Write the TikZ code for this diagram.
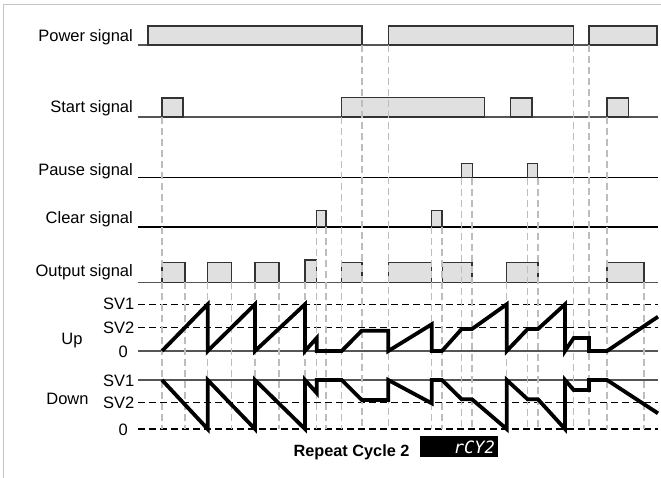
\documentclass[tikz,border=0pt]{standalone}
\usepackage{fontspec}
\setmainfont{Liberation Sans}
\newfontfamily\segfont{DejaVu Sans Mono}
\definecolor{boxfill}{HTML}{E0E0E0}
\definecolor{boxline}{HTML}{333333}
\definecolor{guidec}{HTML}{BDBDBD}
\definecolor{baseln}{HTML}{555555}
\definecolor{framec}{HTML}{C4C4C4}
\begin{document}
\begin{tikzpicture}[x=1pt,y=-1pt,
  pulse/.style={fill=boxfill, draw=boxline, line width=1.2pt},
  sigline/.style={draw=baseln, line width=1.2pt},
  guideline/.style={draw=guidec, line width=1.5pt, dash pattern=on 7pt off 4pt},
  levelline/.style={draw=black, line width=1.4pt, dash pattern=on 7pt off 4pt},
  solidlevel/.style={draw=baseln, line width=1.3pt},
  wave/.style={draw=black, line width=3.8pt, line join=miter, miter limit=10},
  lbl/.style={font=\fontsize{16.5}{19}\selectfont, inner sep=0pt, anchor=base east},
  clbl/.style={font=\fontsize{16.5}{19}\selectfont, inner sep=0pt, anchor=base}]
\useasboundingbox (0,0) rectangle (661,477);
\draw[framec, line width=1.5pt] (3.5,478) -- (3.5,4.5) -- (662,4.5);

% Power signal
\draw[sigline] (138,45) -- (658,45);
\draw[pulse] (148,45) rectangle (362,26);
\draw[pulse] (388.3,45) rectangle (573.7,26);
\draw[pulse] (589,45) rectangle (657,26);

% Start signal
\draw[sigline] (138,117) -- (658,117);
\draw[pulse] (162,117) rectangle (183,98);
\draw[pulse] (341.7,117) rectangle (484.3,97.5);
\draw[pulse] (510.3,117) rectangle (532,98);
\draw[pulse] (607,117) rectangle (628.7,98);

% Pause signal
\draw[draw=black, line width=1pt] (138,177.7) -- (658,177.7);
\draw[pulse] (461.7,177.7) rectangle (472.3,163.3);
\draw[pulse] (527.7,177.7) rectangle (537.7,163.3);

% Clear signal
\draw[draw=black, line width=2pt] (138,226.7) -- (658,226.7);
\draw[pulse] (316.7,226.7) rectangle (326,210.5);
\draw[pulse] (431.7,226.7) rectangle (442,210.5);

% Output signal
\draw[sigline] (138,282.3) -- (658,282.3);
\foreach \a/\b in {162/185, 207.7/231.7, 255/279, 341.7/362, 388.3/431.7, 442.3/472, 506.7/538, 607/644}
  \draw[pulse] (\a,282.3) rectangle (\b,262.7);
\draw[pulse] (305,282.3) rectangle (316.7,260);

% Level lines
\draw[levelline] (138,304.3) -- (658,304.3);
\draw[levelline] (138,327.7) -- (658,327.7);
\draw[solidlevel] (138,351) -- (658,351);
\draw[solidlevel] (138,380) -- (658,380);
\draw[levelline] (138,402.7) -- (658,402.7);
\draw[levelline] (138,429) -- (658,429);

% Guide lines
\foreach \x/\y in {162/117, 185/282.3, 207.7/282.3, 231.7/282.3, 255/282.3, 279/282.3, 305/282.3,
  316.7/226.7, 326/226.7, 341.7/117, 362/45, 388.3/45, 431.7/226.7, 442/226.7,
  461.7/177.7, 472/177.7, 506.7/282.3, 527.7/177.7, 538/177.7, 573.7/45, 589/45, 607/117, 644/282.3}
  \draw[guideline] (\x,\y) -- (\x,429);

% Up waveform
\draw[wave] (162,351) -- (207.7,304.3) -- (207.7,351) -- (255,304.3) -- (255,351) -- (305,304.3)
  -- (305,351) -- (316.7,338) -- (316.7,351) -- (341.7,351) -- (361.7,330.7) -- (388.3,330.7)
  -- (388.3,351) -- (431.7,324.3) -- (431.7,351) -- (442,351) -- (461.7,329) -- (472,329)
  -- (506.7,304.3) -- (506.7,351) -- (527.7,329) -- (538,329) -- (565,304.3) -- (565,351)
  -- (573.7,338) -- (589,338) -- (589,351) -- (607,351) -- (658,316.7);

% Down waveform
\draw[wave] (162,380) -- (207.7,429) -- (207.7,380) -- (255,429) -- (255,380) -- (305,429)
  -- (305,380) -- (316.7,393) -- (316.7,380) -- (341.7,380) -- (361.7,400) -- (388.3,400)
  -- (388.3,380) -- (431.7,403.3) -- (431.7,380) -- (442,380) -- (461.7,399.3) -- (472,399.3)
  -- (506.7,429) -- (506.7,380) -- (527.7,399.3) -- (538,399.3) -- (565,429) -- (565,380)
  -- (573.7,390) -- (589,390) -- (589,380) -- (607,380) -- (658,413.3);

% Labels
\node[lbl] (pw) at (133,41.5) {Power signal};
\node[lbl] (st) at (133,112.5) {Start signal};
\node[lbl] (ps) at (133,175) {Pause signal};
\node[lbl] (cl) at (133,223.5) {Clear signal};
\node[lbl] (os) at (133,276.5) {Output signal};
\node[lbl] (u1) at (134.5,309.3) {SV1};
\node[lbl] (u2) at (134.5,333.3) {SV2};
\node[lbl] (u0) at (128,357) {0};
\node[clbl] (up) at (72,344) {Up};
\node[lbl] (d1) at (134.5,386.5) {SV1};
\node[lbl] (d2) at (134.5,408) {SV2};
\node[lbl] (d0) at (128,435) {0};
\node[clbl] (dn) at (67.5,404.3) {Down};
\node[clbl, font=\fontsize{16.3}{19}\selectfont\bfseries] (rc) at (351.5,456) {Repeat Cycle 2};
\node[fill=black, minimum width=78.4pt, minimum height=20.7pt, inner sep=0pt, anchor=north west] (disp) at (419.3,436) {};
\node[anchor=base east, text=white, inner sep=0pt, font=\segfont\itshape\fontsize{17}{17}\selectfont] (seg) at (495,453) {rCY2};
\end{tikzpicture}
\end{document}
